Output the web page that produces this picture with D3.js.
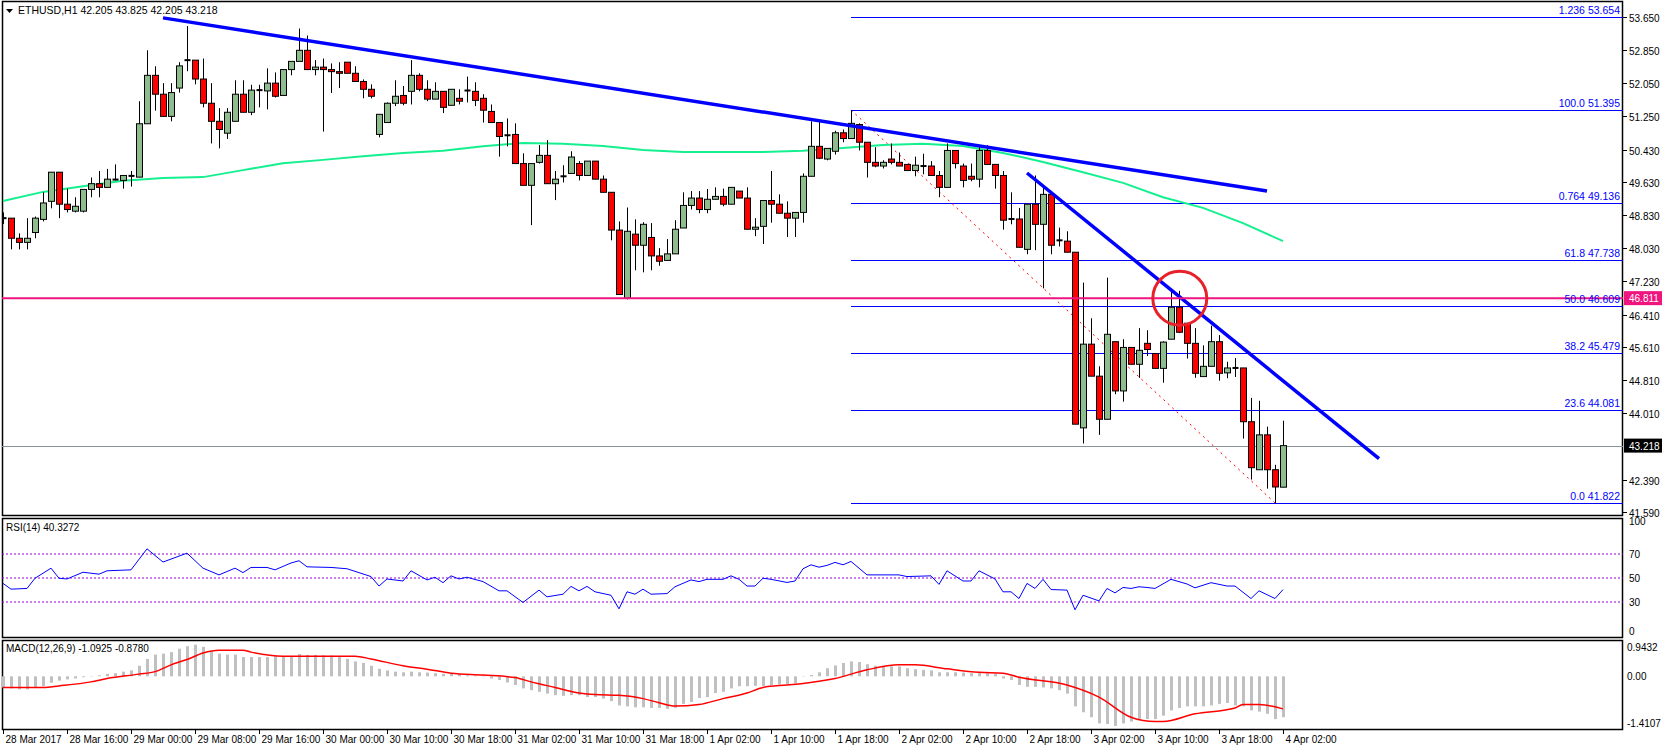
<!DOCTYPE html>
<html>
<head>
<meta charset="utf-8">
<script src="https://cdn.jsdelivr.net/npm/d3@7"></script>
<style>
  html, body { margin: 0; padding: 0; background: #fff; }
  svg { display: block; font-family: "Liberation Sans", Arial, sans-serif; }
</style>
</head>
<body>
<svg id="chart" width="1663" height="746"></svg>
<script>
// ETHUSD H1 candles: [open, high, low, close], one per hour bar
const candles = [
  [48.76,48.90,48.62,48.76],[48.76,48.76,48.00,48.27],[48.27,48.39,48.00,48.17],[48.17,48.76,48.00,48.27],
  [48.41,48.80,48.27,48.76],[48.73,49.39,48.68,49.13],[49.17,49.88,49.00,49.88],[49.88,49.88,48.76,49.10],
  [49.10,49.48,48.90,48.97],[48.93,49.27,48.90,49.05],[48.93,49.46,48.90,49.46],[49.46,49.75,49.27,49.60],
  [49.60,49.91,49.27,49.51],[49.51,49.96,49.51,49.71],[49.68,50.07,49.68,49.70],[49.68,49.80,49.48,49.80],
  [49.77,49.91,49.53,49.79],[49.76,51.61,49.76,51.06],[51.06,52.85,51.06,52.24],[52.24,52.46,51.38,51.78],
  [51.78,52.05,51.24,51.24],[51.24,52.05,51.12,51.82],[51.93,52.56,51.82,52.47],[52.61,53.44,52.34,52.61],
  [52.61,52.61,52.02,52.15],[52.15,52.65,51.46,51.56],[51.56,52.05,50.58,51.12],[51.12,51.44,50.46,50.92],
  [50.83,51.44,50.69,51.34],[51.12,52.12,51.12,51.78],[51.78,52.12,51.34,51.34],[51.34,52.01,51.27,51.88],
  [51.86,52.01,51.46,51.88],[51.86,52.41,51.41,52.05],[52.05,52.31,51.70,51.73],[51.75,52.38,51.75,52.38],
  [52.38,52.58,52.24,52.58],[52.58,53.38,52.58,52.85],[52.85,53.21,52.38,52.38],[52.38,52.61,52.24,52.44],
  [52.44,52.65,50.87,52.38],[52.38,52.53,51.81,52.33],[52.33,52.56,51.93,52.29],[52.56,52.56,52.29,52.29],
  [52.29,52.46,52.09,52.09],[52.09,52.14,51.68,51.90],[51.90,52.02,51.68,51.73],[50.80,51.29,50.73,51.29],
  [51.09,51.58,51.09,51.56],[51.56,52.12,51.49,51.73],[51.75,51.98,51.51,51.56],[51.85,52.61,51.53,52.24],
  [52.24,52.29,51.85,51.90],[51.90,52.12,51.61,51.66],[51.66,52.07,51.66,51.85],[51.85,51.85,51.32,51.46],
  [51.51,51.90,51.51,51.90],[51.68,51.90,51.53,51.61],[51.85,52.21,51.58,51.87],[51.85,52.07,51.49,51.63],
  [51.68,51.78,51.09,51.39],[51.36,51.53,51.09,51.09],[51.09,51.09,50.26,50.75],[50.78,51.19,50.51,50.78],
  [50.80,51.07,50.09,50.09],[50.09,50.34,49.56,49.56],[49.56,50.09,48.59,50.09],[50.12,50.54,50.09,50.29],
  [50.29,50.66,49.60,49.60],[49.60,49.91,49.20,49.71],[49.77,50.05,49.63,49.78],[49.85,50.39,49.85,50.25],
  [50.09,50.15,49.68,49.80],[49.80,50.15,49.80,50.15],[50.15,50.15,49.71,49.71],[49.71,49.80,49.39,49.39],
  [49.39,49.39,48.22,48.47],[48.47,48.68,46.90,46.90],[46.81,49.02,46.78,48.44],[48.37,48.73,47.49,48.10],
  [48.10,48.66,47.44,48.61],[48.29,48.64,47.49,47.84],[47.84,48.03,47.60,47.71],[47.73,48.25,47.73,47.89],
  [47.89,48.71,47.89,48.49],[48.52,49.39,48.52,49.07],[49.07,49.42,48.97,49.25],[49.25,49.42,48.88,48.97],
  [48.97,49.47,48.88,49.22],[49.22,49.51,49.22,49.29],[49.29,49.48,49.05,49.10],[49.10,49.51,49.10,49.51],
  [49.42,49.42,49.25,49.25],[49.25,49.51,48.49,48.49],[48.49,48.76,48.32,48.54],[48.56,49.19,48.13,49.19],
  [49.19,49.91,48.65,49.10],[49.10,49.34,48.88,48.88],[48.88,49.17,48.30,48.76],[48.76,48.90,48.30,48.90],
  [48.90,49.85,48.65,49.78],[49.78,51.12,49.78,50.51],[50.51,51.12,50.20,50.22],[50.20,50.46,50.17,50.46],
  [50.39,50.89,50.31,50.84],[50.84,50.92,50.61,50.70],[50.70,51.395,50.70,51.07],[51.04,51.07,50.41,50.61],
  [50.61,50.61,49.75,50.12],[50.12,50.49,50.00,50.03],[50.03,50.17,49.97,50.12],[50.20,50.58,50.07,50.12],
  [50.12,50.36,50.03,50.03],[50.07,50.07,49.92,49.92],[49.92,50.26,49.78,50.05],[50.03,50.33,49.83,50.03],
  [50.03,50.15,49.80,49.80],[49.80,49.91,49.27,49.51],[49.51,50.58,49.51,50.41],[50.41,50.41,49.97,50.09],
  [50.03,50.09,49.51,49.68],[49.78,50.09,49.66,49.71],[49.71,50.51,49.51,50.41],[50.41,50.54,50.07,50.07],
  [50.07,50.07,49.48,49.80],[49.80,49.91,48.48,48.71],[48.74,49.39,48.61,48.74],[48.74,49.01,48.05,48.05],
  [48.00,49.10,47.88,49.10],[49.10,49.80,47.98,48.61],[48.61,49.56,47.05,49.34],[49.34,49.34,47.88,48.10],
  [48.20,48.53,48.07,48.22],[48.20,48.44,47.93,47.93],[47.93,47.93,43.74,43.74],[43.65,47.19,43.27,45.69],
  [45.69,46.32,44.91,44.91],[44.91,45.15,43.48,43.86],[43.86,47.31,43.86,45.93],[45.75,45.75,44.47,44.55],
  [44.55,45.81,44.29,45.61],[45.61,45.61,45.20,45.20],[45.20,46.08,44.87,45.54],[45.71,46.03,45.40,45.56],
  [45.46,45.46,45.10,45.10],[45.10,45.76,44.75,45.74],[45.81,46.99,45.81,46.59],[46.59,46.99,45.96,45.98],
  [46.20,46.20,45.34,45.71],[45.71,46.08,44.87,44.98],[44.90,45.66,44.90,45.15],[45.15,46.14,45.15,45.75],
  [45.75,45.91,44.80,44.98],[44.99,45.26,44.86,45.11],[45.11,45.35,44.89,45.11],[45.11,45.11,43.39,43.80],
  [43.80,44.38,42.39,42.68],[42.63,44.31,42.63,43.48],[43.48,43.68,42.17,42.63],[42.63,42.75,41.822,42.21],
  [42.205,43.825,42.205,43.218]
];

// moving average (read every 5 bars)
const maBar = [0,5,10,15,20,25,30,35,40,45,50,55,60,65,70,75,80,85,90,95,100,105,110,115,120,125,130,135,140,145,150,155,160];
const maVal = [49.18,49.40,49.54,49.67,49.74,49.76,49.93,50.10,50.18,50.27,50.35,50.40,50.51,50.59,50.57,50.52,50.42,50.37,50.37,50.37,50.40,50.47,50.54,50.57,50.52,50.35,50.13,49.88,49.62,49.27,49.01,48.64,48.20];

// trend lines [bar, price]
const trendA = [[20, 53.64], [158, 49.42]];
const trendB = [[128, 49.86], [172, 42.90]];
const supportLevel = 46.811;
const lastPrice = 43.218;

// fibonacci retracement (bar 106 high -> bar 159 low)
const fibFrom = [106, 51.395];
const fibTo = [159, 41.822];
const fibNames = ["1.236", "100.0", "0.764", "61.8", "50.0", "38.2", "23.6", "0.0"];
const fibPrices = [53.654, 51.395, 49.136, 47.738, 46.609, 45.479, 44.081, 41.822];

const priceTicks = [53.650, 52.850, 52.050, 51.250, 50.430, 49.630, 48.830, 48.030, 47.230, 46.410, 45.610, 44.810, 44.010, 42.390, 41.590];

// RSI(14) points
const rsiBar = [0,1,3,4,6,7,8,10,12,13,16,18,20,23,25,27,29,30,31,33,34,36,37,38,41,43,46,47,48,50,51,53,54,55,56,57,58,60,62,63,65,67,68,70,71,72,73,74,76,77,78,79,80,81,83,84,86,87,88,90,91,92,93,94,95,96,98,99,100,101,102,103,104,105,106,108,112,113,116,117,118,120,121,122,124,125,126,127,128,129,130,131,133,134,135,137,138,139,140,141,142,143,144,146,148,149,151,153,154,156,157,159,160];
const rsiVal = [45.5,40.7,41.3,49.8,58.2,49.8,49.2,54.8,53.2,56.0,56.8,74.3,63.3,70.7,58.2,52.6,58.2,54.5,58.8,58.8,56.8,62.5,64.4,59.3,58.8,57.7,51.2,43.3,49.2,47.5,56.0,48.4,50.6,46.1,51.8,49.2,50.6,47.0,39.3,39.3,29.6,39.9,34.3,36.5,43.0,39.3,43.0,38.5,35.6,24.3,38.5,36.5,40.7,36.5,37.0,42.7,48.4,47.0,48.9,48.9,51.8,48.9,43.3,43.3,49.8,48.9,46.3,47.5,57.7,61.0,59.0,60.5,63.0,61.0,63.8,52.6,52.6,51.2,51.8,44.7,56.0,47.5,47.5,56.0,49.2,38.5,38.5,32.9,45.5,41.3,48.9,40.4,39.9,23.5,35.6,30.9,41.3,37.6,42.1,41.3,42.7,42.1,41.3,48.9,45.0,41.8,46.1,43.3,43.3,32.9,39.3,32.9,40.33];
const rsiLevels = [70, 50, 30];

// MACD(12,26,9) histogram, one per bar
const macdHist = [
  -0.36,-0.39,-0.42,-0.42,-0.36,-0.32,-0.21,-0.14,-0.10,-0.07,-0.03,0.01,0.03,0.08,0.10,0.15,0.19,0.34,0.56,0.70,
  0.73,0.78,0.89,0.97,1.02,0.95,0.81,0.73,0.70,0.70,0.62,0.62,0.62,0.62,0.65,0.65,0.65,0.72,0.69,0.69,
  0.68,0.67,0.62,0.56,0.48,0.43,0.34,0.24,0.19,0.15,0.13,0.15,0.13,0.12,0.10,0.08,0.08,0.07,0.03,0.02,
  0.01,-0.07,-0.12,-0.20,-0.28,-0.39,-0.45,-0.50,-0.56,-0.61,-0.63,-0.61,-0.61,-0.67,-0.67,-0.72,-0.80,-0.94,-0.97,-1.00,
  -1.00,-1.02,-1.02,-1.05,-1.02,-0.89,-0.83,-0.70,-0.67,-0.54,-0.50,-0.39,-0.32,-0.32,-0.31,-0.31,-0.28,-0.26,-0.25,-0.23,
  -0.01,0.04,0.13,0.26,0.35,0.43,0.48,0.46,0.39,0.34,0.32,0.32,0.32,0.26,0.23,0.21,0.19,0.13,0.13,0.13,
  0.12,0.10,0.12,0.10,0.08,-0.07,-0.12,-0.28,-0.34,-0.34,-0.36,-0.39,-0.45,-0.56,-0.97,-1.16,-1.32,-1.52,-1.54,-1.60,
  -1.52,-1.46,-1.41,-1.38,-1.38,-1.27,-1.10,-1.02,-0.97,-0.97,-0.97,-0.94,-0.89,-0.86,-0.94,-0.97,-1.10,-1.14,-1.21,-1.38,
  -1.32
];
const sigBar = [0,5,7,11,13,17,19,21,23,25,27,30,31,35,44,46,50,53,56,60,64,66,69,72,74,77,80,82,84,87,90,93,95,98,100,104,108,112,114,118,122,125,127,133,137,141,144,145,149,154,155,157,160];
const sigVal = [-0.36,-0.36,-0.31,-0.18,-0.07,0.07,0.15,0.37,0.54,0.75,0.84,0.84,0.78,0.65,0.65,0.56,0.34,0.23,0.10,0.04,-0.04,-0.18,-0.36,-0.54,-0.59,-0.61,-0.72,-0.85,-0.96,-0.91,-0.72,-0.54,-0.36,-0.28,-0.23,-0.07,0.21,0.37,0.37,0.24,0.13,0.10,-0.03,-0.28,-0.67,-1.32,-1.46,-1.46,-1.21,-1.02,-0.91,-0.91,-1.05];

const timeLabels = ["28 Mar 2017","28 Mar 16:00","29 Mar 00:00","29 Mar 08:00","29 Mar 16:00","30 Mar 00:00","30 Mar 10:00","30 Mar 18:00","31 Mar 02:00","31 Mar 10:00","31 Mar 18:00","1 Apr 02:00","1 Apr 10:00","1 Apr 18:00","2 Apr 02:00","2 Apr 10:00","2 Apr 18:00","3 Apr 02:00","3 Apr 10:00","3 Apr 18:00","4 Apr 02:00"];

const svg = d3.select("#chart");
const left = 2, right = 1623;

// panels (top, bottom)
const mainP = [1, 516], rsiP = [518, 638], macdP = [640, 730];

const x = d3.scaleLinear().domain([0, 202.5]).range([3, right]);
const y = d3.scaleLinear().domain([41.822, 53.654]).range([502.9, 17.3]);
const yR = d3.scaleLinear().domain([0, 100]).range([638, 518]);
const yM = d3.scaleLinear().domain([0, 1]).range([676.3, 645.3]);

// clip paths per panel
const defs = svg.append("defs");
[["clipMain", mainP], ["clipRsi", rsiP], ["clipMacd", macdP]].forEach(([id, p]) => {
  defs.append("clipPath").attr("id", id).append("rect")
    .attr("x", left).attr("y", p[0]).attr("width", right - left).attr("height", p[1] - p[0]);
});

// panel frames
[mainP, rsiP, macdP].forEach(p => {
  svg.append("rect").attr("x", left + 0.5).attr("y", p[0] + 0.5)
    .attr("width", right - left - 1).attr("height", p[1] - p[0] - 1)
    .attr("fill", "none").attr("stroke", "#000").attr("stroke-width", 1.5);
});

const main = svg.append("g").attr("clip-path", "url(#clipMain)");

// --- Fibonacci levels ---
fibPrices.forEach(p => {
  main.append("line").attr("x1", x(fibFrom[0])).attr("x2", right)
    .attr("y1", Math.round(y(p)) + 0.5).attr("y2", Math.round(y(p)) + 0.5)
    .attr("stroke", "#0000ff").attr("stroke-width", 1);
});
main.append("line")
  .attr("x1", x(fibFrom[0])).attr("y1", y(fibFrom[1]))
  .attr("x2", x(fibTo[0])).attr("y2", y(fibTo[1]))
  .attr("stroke", "#ff0000").attr("stroke-width", 1).attr("stroke-dasharray", "2,4");

// current price line
main.append("line").attr("x1", left).attr("x2", right)
  .attr("y1", Math.round(y(lastPrice)) + 0.5).attr("y2", Math.round(y(lastPrice)) + 0.5)
  .attr("stroke", "#8a9099").attr("stroke-width", 1);

// --- Moving average ---
main.append("path")
  .datum(maBar.map((b, i) => [b, maVal[i]]))
  .attr("fill", "none").attr("stroke", "#14f08f").attr("stroke-width", 2)
  .attr("d", d3.line().x(d => x(d[0])).y(d => y(d[1])));

// --- Candles ---
const cg = main.append("g");
candles.forEach((c, i) => {
  const [o, h, l, cl] = c;
  const cx = Math.round(x(i)) + 0.5;
  cg.append("line").attr("x1", cx).attr("x2", cx).attr("y1", y(h)).attr("y2", y(l))
    .attr("stroke", "#000").attr("stroke-width", 1);
  const top = y(Math.max(o, cl)), bot = y(Math.min(o, cl));
  if (bot - top < 1.5) {
    cg.append("line").attr("x1", cx - 3).attr("x2", cx + 3).attr("y1", top).attr("y2", top)
      .attr("stroke", "#000").attr("stroke-width", 2);
  } else {
    cg.append("rect").attr("x", cx - 3).attr("y", top).attr("width", 6).attr("height", bot - top)
      .attr("fill", cl >= o ? "#8fbc8f" : "#ff0000").attr("stroke", "#000").attr("stroke-width", 1);
  }
});

// --- Trend lines & support ---
[trendA, trendB].forEach(t => {
  main.append("line")
    .attr("x1", x(t[0][0])).attr("y1", y(t[0][1]))
    .attr("x2", x(t[1][0])).attr("y2", y(t[1][1]))
    .attr("stroke", "#0000ff").attr("stroke-width", 3.5);
});
main.append("line").attr("x1", left).attr("x2", right)
  .attr("y1", y(supportLevel)).attr("y2", y(supportLevel))
  .attr("stroke", "#f0147f").attr("stroke-width", 2);

// red circle marker
main.append("circle").attr("cx", x(147.1)).attr("cy", y(46.81)).attr("r", 27)
  .attr("fill", "none").attr("stroke", "#e8202a").attr("stroke-width", 3);

// fib labels
fibPrices.forEach((p, i) => {
  main.append("text").attr("x", right - 3).attr("y", y(p) - 3)
    .attr("text-anchor", "end").attr("font-size", 10.5).attr("fill", "#0000ff")
    .text(fibNames[i] + "  " + p.toFixed(3));
});

// title
svg.append("path").attr("d", "M6,9 L13,9 L9.5,13 Z").attr("fill", "#000");
svg.append("text").attr("x", 18).attr("y", 14).attr("font-size", 10.5).attr("fill", "#000")
  .text("ETHUSD,H1  42.205 43.825 42.205 43.218");

// --- Price axis ---
const ax = svg.append("g");
priceTicks.forEach(p => {
  const yy = Math.round(y(p)) + 0.5;
  ax.append("line").attr("x1", right).attr("x2", right + 4).attr("y1", yy).attr("y2", yy).attr("stroke", "#000");
  ax.append("text").attr("x", right + 6).attr("y", yy + 4).attr("font-size", 10).text(p.toFixed(3));
});
function priceBox(p, fill) {
  const yy = y(p);
  ax.append("rect").attr("x", right + 1).attr("y", yy - 7).attr("width", 38).attr("height", 14).attr("fill", fill);
  ax.append("text").attr("x", right + 6).attr("y", yy + 4).attr("font-size", 10).attr("fill", "#fff").text(p.toFixed(3));
}
priceBox(supportLevel, "#f0147f");
priceBox(lastPrice, "#000");

// --- RSI panel ---
const rg = svg.append("g").attr("clip-path", "url(#clipRsi)");
rsiLevels.forEach(v => {
  rg.append("line").attr("x1", left).attr("x2", right).attr("y1", yR(v)).attr("y2", yR(v))
    .attr("stroke", "#9400d3").attr("stroke-width", 1).attr("stroke-dasharray", "2,2");
});
rg.append("path")
  .datum(rsiBar.map((b, i) => [b, rsiVal[i]]))
  .attr("fill", "none").attr("stroke", "#0000ff").attr("stroke-width", 1)
  .attr("d", d3.line().x(d => x(d[0])).y(d => yR(d[1])));
svg.append("text").attr("x", 6).attr("y", 531).attr("font-size", 10).text("RSI(14) 40.3272");
[[100, 7], [70, 4], [50, 4], [30, 4], [0, -3]].forEach(([v, dy]) => {
  svg.append("text").attr("x", right + 6).attr("y", yR(v) + dy).attr("font-size", 10).text(v);
});

// --- MACD panel ---
const mg = svg.append("g").attr("clip-path", "url(#clipMacd)");
macdHist.forEach((v, i) => {
  mg.append("rect").attr("x", Math.round(x(i)) - 1).attr("width", 3)
    .attr("y", Math.min(yM(v), yM(0))).attr("height", Math.abs(yM(v) - yM(0)))
    .attr("fill", "#c0c0c0");
});
mg.append("path")
  .datum(sigBar.map((b, i) => [b, sigVal[i]]))
  .attr("fill", "none").attr("stroke", "#ff0000").attr("stroke-width", 1.5)
  .attr("d", d3.line().curve(d3.curveMonotoneX).x(d => x(d[0])).y(d => yM(d[1])));
svg.append("text").attr("x", 6).attr("y", 652).attr("font-size", 10).text("MACD(12,26,9) -1.0925 -0.8780");
[["0.9432", 647], ["0.00", 676], ["-1.4107", 723]].forEach(([t, yy]) => {
  svg.append("text").attr("x", right + 4).attr("y", yy + 4).attr("font-size", 10).text(t);
});

// --- Time axis ---
timeLabels.forEach((t, i) => {
  const xx = Math.round(x(i * 8)) + 0.5;
  svg.append("line").attr("x1", xx).attr("x2", xx).attr("y1", macdP[1]).attr("y2", macdP[1] + 4).attr("stroke", "#000");
  svg.append("text").attr("x", xx + 2).attr("y", 743).attr("font-size", 10).text(t);
});
</script>
</body>
</html>
